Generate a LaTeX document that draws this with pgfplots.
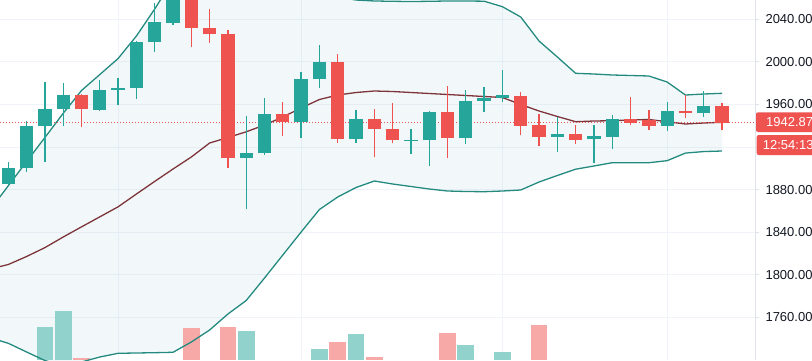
\documentclass[border=0pt]{standalone}
\usepackage{fontspec}
\setmainfont{Liberation Sans}
\usepackage{pgfplots}
\pgfplotsset{compat=1.18}
\usepackage{pgfplotstable}
\usepgfplotslibrary{fillbetween}
\definecolor{up}{RGB}{38,166,154}
\definecolor{dn}{RGB}{239,83,80}
\definecolor{upv}{RGB}{146,210,204}
\definecolor{dnv}{RGB}{247,169,167}
\definecolor{band}{RGB}{36,138,128}
\definecolor{basis}{RGB}{125,52,58}
\definecolor{gridc}{RGB}{240,243,250}
\definecolor{axc}{RGB}{224,227,235}
\definecolor{txt}{RGB}{19,23,34}
\definecolor{fillc}{RGB}{38,140,154}

\pgfplotstableread{
i o h l c
0 1885.06 1905.72 1883.94 1900.65
1 1900.65 1944.78 1896.89 1939.81
2 1939.81 1981.40 1905.72 1955.49
3 1955.49 1980.47 1940.09 1968.91
5 1954.83 1983.00 1953.89 1973.61
6 1973.61 1985.16 1959.24 1975.77
7 1975.77 2019.62 1965.16 2018.96
8 2018.40 2055.02 2009.01 2037.18
9 2036.80 2076.90 2034.64 2069.40
13 1910.04 1949.20 1861.59 1914.73
14 1914.17 1965.82 1913.04 1950.89
16 1943.84 1990.79 1928.26 1983.94
17 1983.66 2015.86 1975.77 2000.18
19 1927.32 1954.83 1924.12 1946.10
22 1925.91 1936.71 1913.51 1926.76
23 1926.66 1954.17 1902.25 1953.23
25 1928.26 1973.61 1922.90 1963.56
26 1963.28 1976.15 1953.23 1966.38
27 1966.38 1992.39 1962.62 1968.91
30 1929.20 1948.54 1915.67 1932.29
32 1927.32 1940.74 1905.34 1930.42
33 1929.76 1950.13 1918.21 1946.10
36 1940.09 1962.62 1935.11 1953.89
38 1951.73 1972.67 1948.54 1958.59
}\upc

\pgfplotstableread{
i o h l c
4 1969.20 1969.40 1938.59 1955.49
10 2068.00 2075.00 2014.27 2031.55
11 2032.10 2049.39 2018.02 2025.91
12 2025.91 2029.95 1900.65 1910.04
15 1950.80 1962.62 1930.42 1943.84
18 2000.18 2007.13 1924.12 1927.32
20 1946.10 1955.77 1910.42 1936.71
21 1936.99 1961.68 1923.56 1926.66
24 1953.23 1977.37 1909.48 1928.26
28 1968.26 1972.01 1931.35 1940.09
29 1940.74 1951.07 1921.03 1929.20
31 1932.29 1940.74 1922.90 1926.66
34 1946.10 1967.32 1940.74 1942.90
35 1945.44 1954.83 1936.05 1940.09
37 1954.17 1968.91 1947.04 1951.73
39 1958.59 1961.12 1936.05 1942.87
}\dnc

\pgfplotstableread{
i u m l
-1 1860.93 1805.53 1741.02
0 1883.74 1809.76 1735.76
1 1906.38 1817.27 1727.60
2 1929.01 1825.60 1719.60
3 1951.73 1835.58 1714.45
4 1973.14 1845.10 1718.20
5 1988.14 1854.50 1722.90
6 2003.19 1863.93 1726.37
7 2024.32 1875.95 1726.66
8 2049.67 1887.79 1726.94
9 2076.90 1899.43 1727.32
10 2100.40 1910.70 1736.98
11 2116.30 1923.84 1748.25
12 2123.90 1929.01 1763.27
13 2116.30 1934.36 1775.95
14 2105.10 1940.75 1797.08
15 2091.00 1948.26 1818.68
16 2078.80 1956.71 1840.27
17 2067.50 1964.69 1861.40
18 2060.90 1968.90 1873.14
19 2058.10 1971.26 1882.06
20 2057.20 1972.67 1888.16
21 2056.90 1972.20 1885.34
22 2056.70 1971.26 1883.00
23 2056.90 1970.32 1880.65
24 2057.20 1969.38 1878.77
25 2057.20 1968.44 1878.30
26 2057.00 1967.50 1878.11
27 2051.83 1966.57 1878.77
28 2042.16 1959.99 1879.71
29 2019.62 1953.89 1887.22
30 2004.60 1948.73 1893.33
31 1989.29 1943.84 1899.24
32 1988.63 1944.50 1902.25
33 1987.70 1944.78 1905.34
34 1987.23 1945.44 1905.34
35 1986.76 1945.91 1905.34
36 1981.12 1943.84 1907.24
37 1968.90 1941.68 1914.39
38 1969.85 1942.62 1915.80
39 1970.51 1943.28 1916.33
}\bands

\pgfplotstableread{
i v
2 32.7
3 49.0
13 29.0
17 10.7
19 25.7
25 15.0
27 8.3
}\volup

\pgfplotstableread{
i v
4 2.3
10 31.7
12 33.3
18 17.7
20 2.7
24 26.7
29 35.0
}\voldn

\begin{document}
\begin{tikzpicture}[x=1pt,y=1pt]
\begin{axis}[
  at={(0,0)}, anchor=south west,
  scale only axis, width=755pt, height=360pt,
  xmin=-0.454, xmax=40.80, ymin=1720.08, ymax=2058.12,
  axis line style={draw=none},
  xtick={6,16,27,36}, xticklabels={}, xtick style={draw=none},
  ytick={1720,1760,1800,1840,1880,1960,2000,2040},
  extra y ticks={1920}, extra y tick labels={},
  extra y tick style={grid=major, tick style={draw=axc, line width=1pt}},
  ytick pos=right, yticklabel pos=right,
  tick align=outside, major tick length=4pt,
  ytick style={draw=axc, line width=1pt},
  grid=major, grid style={draw=gridc, line width=1pt},
  yticklabel style={font=\fontsize{13}{15}\selectfont, text=txt, anchor=west, xshift=3pt},
  yticklabel={\pgfmathprintnumber[fixed,fixed zerofill,precision=2,1000 sep={},assume math mode=true]{\tick}},
]
% band fill
\addplot[name path=U, draw=none, forget plot] table[x=i,y=u]{\bands};
\addplot[name path=L, draw=none, forget plot] table[x=i,y=l]{\bands};
\addplot[fill=fillc, fill opacity=0.06, draw=none] fill between[of=U and L];
% volume
\addplot[draw=none, error bars/.cd, y dir=plus, y explicit, error mark=none,
  error bar style={draw=upv, line width=16.8pt}]
  table[x=i, y expr=1720.08, y error plus expr=\thisrow{v}*0.939]{\volup};
\addplot[draw=none, error bars/.cd, y dir=plus, y explicit, error mark=none,
  error bar style={draw=dnv, line width=16.8pt}]
  table[x=i, y expr=1720.08, y error plus expr=\thisrow{v}*0.939]{\voldn};
% bands
\addplot[band, line width=1.3pt] table[x=i,y=u]{\bands};
\addplot[band, line width=1.3pt] table[x=i,y=l]{\bands};
\addplot[basis, line width=1.3pt] table[x=i,y=m]{\bands};
% price line
\draw[dn, line width=1pt, dash pattern=on 1pt off 2pt] (axis cs:-0.454,1942.87) -- (axis cs:40.8,1942.87);
% wicks
\addplot[draw=none, error bars/.cd, y dir=plus, y explicit, error mark=none,
  error bar style={draw=up, line width=1.3pt}]
  table[x=i, y=l, y error plus expr=\thisrow{h}-\thisrow{l}]{\upc};
\addplot[draw=none, error bars/.cd, y dir=plus, y explicit, error mark=none,
  error bar style={draw=dn, line width=1.3pt}]
  table[x=i, y=l, y error plus expr=\thisrow{h}-\thisrow{l}]{\dnc};
% bodies
\addplot[draw=none, error bars/.cd, y dir=plus, y explicit, error mark=none,
  error bar style={draw=up, line width=13.3pt}]
  table[x=i, y expr={min(\thisrow{o},\thisrow{c})}, y error plus expr={abs(\thisrow{c}-\thisrow{o})}]{\upc};
\addplot[draw=none, error bars/.cd, y dir=plus, y explicit, error mark=none,
  error bar style={draw=dn, line width=13.3pt}]
  table[x=i, y expr={min(\thisrow{o},\thisrow{c})}, y error plus expr={abs(\thisrow{c}-\thisrow{o})}]{\dnc};
\end{axis}
\draw[axc, line width=1pt] (755,0) -- (755,360);
\fill[dn, rounded corners=2pt] (756,228) rectangle (840,247.7);
\node[anchor=west, text=white, font=\fontsize{13}{15}\selectfont, inner sep=0pt] at (766,237.8) {1942.87};
\fill[dn, rounded corners=2pt] (756.7,205) rectangle (840,225);
\node[anchor=west, text=white, font=\fontsize{13}{15}\selectfont, inner sep=0pt] at (762.7,215) {12:54:13};
\pgfresetboundingbox
\useasboundingbox (0,0) rectangle (812,360);
\end{tikzpicture}
\end{document}
